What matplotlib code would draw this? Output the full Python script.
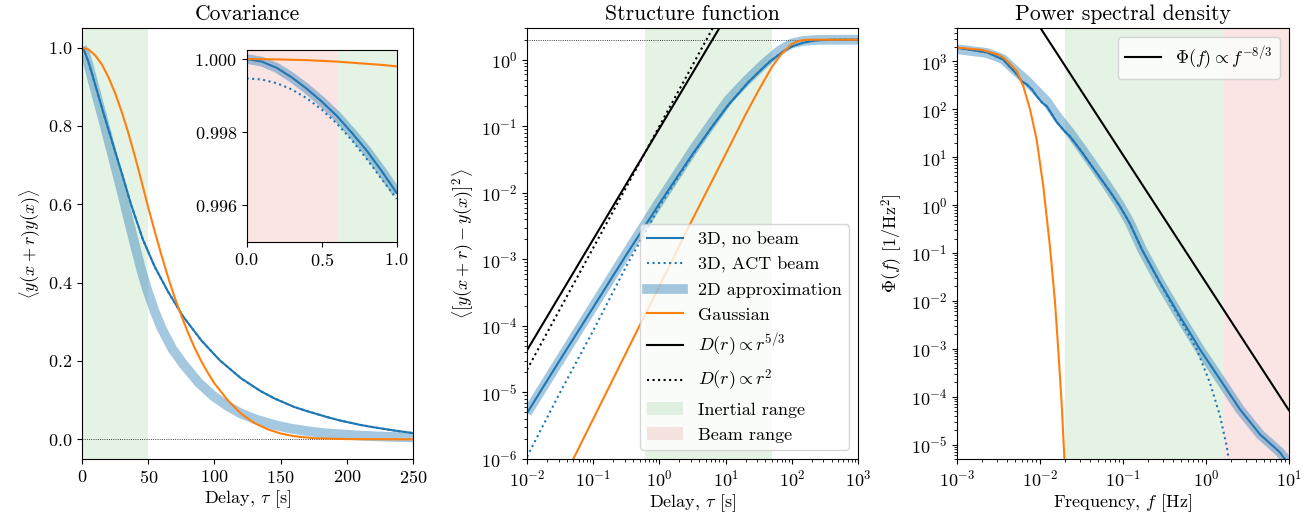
import numpy as np
import matplotlib
matplotlib.use('Agg')
import matplotlib.pyplot as plt
from matplotlib.lines import Line2D
from matplotlib.patches import Patch
from matplotlib.ticker import LogLocator, FormatStrFormatter, NullFormatter

plt.rcParams['font.family'] = 'serif'
plt.rcParams['font.serif'] = ['cmr10']
plt.rcParams['mathtext.fontset'] = 'cm'
plt.rcParams['axes.formatter.use_mathtext'] = True
plt.rcParams['axes.unicode_minus'] = False
plt.rcParams['font.size'] = 13

# scale ranges [s]
tau_inertial = [0.6, 50.0]
tau_beam = [0.0, 0.6]

# --- covariance, lags in seconds
tau_3d = [0, 2, 5, 8, 11, 16, 22, 30, 37, 46, 55, 65, 76.5, 90, 104, 120, 135, 145, 160, 170,
          185, 195, 210, 220, 235, 250]
cov_3d = [1.0, 0.99, 0.962, 0.928, 0.893, 0.835, 0.768, 0.68, 0.60, 0.51, 0.44, 0.377, 0.313,
          0.253, 0.202, 0.156, 0.123, 0.105, 0.083, 0.072, 0.057, 0.048, 0.037, 0.031, 0.023, 0.016]
cov_act = [0.9995, 0.9895, 0.962, 0.928, 0.893, 0.835, 0.768, 0.68, 0.60, 0.51, 0.44, 0.377, 0.313,
           0.253, 0.202, 0.156, 0.123, 0.105, 0.083, 0.072, 0.057, 0.048, 0.037, 0.031, 0.023, 0.016]
tau_2d = [0, 2, 5, 9.8, 15, 19.9, 25, 30, 36.3, 41.3, 45, 48.9, 55, 60.2, 68, 76.5, 88, 99, 110,
          120, 132, 145, 157, 170, 182, 195, 210, 220, 235, 250]
cov_2d = [1.0, 0.988, 0.955, 0.893, 0.828, 0.765, 0.698, 0.632, 0.545, 0.478, 0.43, 0.385, 0.325,
          0.283, 0.232, 0.192, 0.145, 0.111, 0.085, 0.066, 0.05, 0.037, 0.028, 0.021, 0.016, 0.013,
          0.0095, 0.008, 0.0062, 0.005]
tau_g = [0, 5, 10, 15, 20, 25, 30, 35, 40, 45, 50, 55, 60, 65, 70, 75, 80, 85, 90, 95, 100,
         110, 120, 130, 140, 150, 160, 175, 200, 250]
cov_g = [1.0, 0.995, 0.98, 0.957, 0.924, 0.884, 0.836, 0.782, 0.722, 0.658, 0.592, 0.53, 0.47,
         0.414, 0.362, 0.316, 0.273, 0.234, 0.2, 0.17, 0.143, 0.1, 0.066, 0.042, 0.026, 0.015,
         0.008, 0.003, 0.0006, 0.0]

# inset, first second of lag
tau_in = [0, 0.1, 0.2, 0.3, 0.4, 0.5, 0.6, 0.7, 0.8, 0.9, 1.0]
cov_in_3d = [1.0, 0.99993, 0.99976, 0.99950, 0.99919, 0.99884, 0.99845, 0.99799, 0.99750, 0.99694, 0.99634]
cov_in_act = [0.99947, 0.99944, 0.99934, 0.99917, 0.99893, 0.99862, 0.99824, 0.99779, 0.99727, 0.99672, 0.99618]
cov_in_2d = [1.0, 0.99993, 0.99976, 0.99950, 0.99919, 0.99884, 0.99845, 0.99799, 0.99750, 0.99694, 0.99634]
cov_in_g = [1.0, 0.999998, 0.99999, 0.99998, 0.99997, 0.99995, 0.99993, 0.9999, 0.99987, 0.99984, 0.9998]

# --- structure function
r_sf_3d = [0.01, 0.0316, 0.1, 0.316, 1, 3.16, 6.3, 11, 22, 37, 46, 66, 76, 100, 145, 195, 250, 400, 1000]
sf_3d = [4.9e-6, 3.1e-5, 1.9e-4, 1.17e-3, 6.9e-3, 0.038, 0.1, 0.21, 0.46, 0.76, 0.93, 1.22, 1.36,
         1.58, 1.79, 1.9, 1.96, 1.995, 2.0]
r_sf_act = [0.01, 0.0316, 0.1, 0.316, 0.562, 1, 3.16, 6.3, 11, 22, 37, 46, 66, 76, 100, 145, 195, 250, 400, 1000]
sf_act = [1.08e-6, 1.0e-5, 8.5e-5, 7.9e-4, 2.2e-3, 6.3e-3, 0.037, 0.1, 0.21, 0.46, 0.76, 0.93, 1.22, 1.36,
          1.58, 1.79, 1.9, 1.96, 1.995, 2.0]
r_sf_2d = [0.01, 0.0316, 0.1, 0.316, 1, 3.16, 6.3, 11, 20, 37, 50, 66, 100, 150, 250, 1000]
sf_2d = [4.9e-6, 3.1e-5, 1.95e-4, 1.22e-3, 7.4e-3, 0.043, 0.115, 0.25, 0.47, 0.85, 1.1, 1.38,
         1.76, 1.92, 1.99, 2.0]
r_sf_g = [0.04, 0.1, 0.316, 1, 3.16, 10, 20, 31.6, 50, 70, 100, 130, 160, 200, 1000]
sf_g = [6.4e-7, 4e-6, 4e-5, 4e-4, 4e-3, 0.038, 0.15, 0.35, 0.78, 1.23, 1.73, 1.93, 1.99, 2.0, 2.0]
r_ref = [0.01, 10.0]
sf_53 = [4.3e-5, 4.3]
sf_2 = [2.2e-5, 6.8]
sf_sat = 2.0

# --- power spectral density
f_3d = [1e-3, 2.30e-3, 3.58e-3, 5.28e-3, 6.07e-3, 6.97e-3, 8.02e-3, 9.2e-3, 1.057e-2, 1.213e-2,
        1.396e-2, 1.603e-2, 1.945e-2, 2.30e-2, 3.03e-2, 4.0e-2, 5.28e-2, 6.97e-2, 9.2e-2, 0.121,
        0.169, 0.279, 0.486, 0.847, 1.476, 2.57, 4.48, 7.80, 8.95]
psd_3d = [1932, 1542, 1102, 536, 382, 331, 260, 186, 139, 115,
          78.3, 53.3, 36.2, 27.2, 14.6, 7.43, 3.78, 1.93, 0.94, 0.415,
          0.119, 0.0243, 4.74e-3, 9.7e-4, 2.30e-4, 5.43e-5, 1.63e-5, 6.87e-6, 4.9e-6]
f_act = [1e-3, 2.30e-3, 3.58e-3, 5.28e-3, 6.07e-3, 6.97e-3, 8.02e-3, 9.2e-3, 1.057e-2, 1.213e-2,
         1.396e-2, 1.603e-2, 1.945e-2, 2.30e-2, 3.03e-2, 4.0e-2, 5.28e-2, 6.97e-2, 9.2e-2, 0.121,
         0.169, 0.279, 0.486, 0.773, 1.117, 1.476, 1.78, 1.9]
psd_act = [1932, 1542, 1102, 536, 382, 331, 260, 186, 139, 115,
           78.3, 53.3, 36.2, 27.2, 14.6, 7.43, 3.78, 1.93, 0.94, 0.415,
           0.119, 0.0235, 4.2e-3, 9.8e-4, 1.95e-4, 4.0e-5, 9.3e-6, 4.5e-6]
f_2d = [1e-3, 2.3e-3, 3.58e-3, 5.28e-3, 6.97e-3, 9.2e-3, 1.213e-2, 1.603e-2, 2.30e-2, 3.03e-2,
        4.0e-2, 5.28e-2, 6.97e-2, 9.2e-2, 0.121, 0.169, 0.279, 0.486, 0.847, 1.476, 2.57, 4.48, 7.80, 9.5]
psd_2d = [1800, 1500, 1120, 600, 390, 240, 145, 72, 33, 17,
          8.6, 4.3, 2.1, 1.0, 0.43, 0.12, 0.024, 4.7e-3, 9.7e-4, 2.3e-4, 5.4e-5, 1.63e-5, 6.9e-6, 4.6e-6]
f_g = [1e-3, 2.0e-3, 3.16e-3, 3.63e-3, 4.47e-3, 5.25e-3, 6.31e-3, 7.59e-3, 9.12e-3, 1.096e-2,
       1.318e-2, 1.514e-2, 1.66e-2, 1.82e-2, 1.963e-2, 2.04e-2]
psd_g = [1950, 1740, 1380, 1200, 851, 631, 302, 100, 23.4, 2.5,
         0.138, 0.01, 9.8e-4, 7.9e-5, 5.75e-6, 2.5e-6]
f_ref = [1e-3, 10.0]
psd_83 = [2.4e6, 5.2e-5]

# decade ticks shown on the log axes
r_ticks = [1e-2, 1e-1, 1e0, 1e1, 1e2, 1e3]
sf_ticks = [1e-6, 1e-5, 1e-4, 1e-3, 1e-2, 1e-1, 1e0]
f_ticks = [1e-3, 1e-2, 1e-1, 1e0, 1e1]
psd_ticks = [1e-5, 1e-4, 1e-3, 1e-2, 1e-1, 1e0, 1e1, 1e2, 1e3]

span_kw = dict(alpha=0.12, lw=0)
band_kw = dict(color='C0', lw=7, alpha=0.4, solid_capstyle='butt')

fig = plt.figure(figsize=(13.12, 5.18), dpi=100)
ax1 = fig.add_axes([0.0625, 0.114, 0.2523, 0.832])
ax2 = fig.add_axes([0.4017, 0.114, 0.2523, 0.832])
ax3 = fig.add_axes([0.7294, 0.114, 0.2530, 0.832])

# covariance
ax1.axvspan(*tau_inertial, color='C2', **span_kw)
ax1.axvspan(*tau_beam, color='C3', **span_kw)
ax1.axhline(0, color='k', ls=':', lw=0.6)
ax1.plot(tau_3d, cov_3d, color='C0', lw=1.5)
ax1.plot(tau_3d, cov_act, color='C0', lw=1.5, ls=':')
ax1.plot(tau_2d, cov_2d, **band_kw)
ax1.plot(tau_g, cov_g, color='C1', lw=1.5)
ax1.set_xlim(0, 250)
ax1.set_ylim(-0.05, 1.05)
ax1.set_xticks([0, 50, 100, 150, 200, 250])
ax1.set_yticks([0.0, 0.2, 0.4, 0.6, 0.8, 1.0])
ax1.set_xlabel(r'Delay, $\tau$ [s]', labelpad=2)
ax1.set_ylabel(r'$\left\langle y(x+r)y(x) \right\rangle$')
ax1.set_title('Covariance')

ins = fig.add_axes([0.188, 0.533, 0.1143, 0.3707])
ins.axvspan(*tau_inertial, color='C2', **span_kw)
ins.axvspan(*tau_beam, color='C3', **span_kw)
ins.plot(tau_in, cov_in_3d, color='C0', lw=1.5)
ins.plot(tau_in, cov_in_act, color='C0', lw=1.5, ls=':')
ins.plot(tau_in, cov_in_2d, **band_kw)
ins.plot(tau_in, cov_in_g, color='C1', lw=1.5)
ins.set_xlim(0, 1)
ins.set_ylim(0.995, 1.00025)
ins.set_xticks([0.0, 0.5, 1.0])
ins.set_yticks([0.996, 0.998, 1.000])
ins.xaxis.set_major_formatter(FormatStrFormatter(r'$%.1f$'))
ins.yaxis.set_major_formatter(FormatStrFormatter(r'$%.3f$'))

# structure function
ax2.axvspan(*tau_inertial, color='C2', **span_kw)
ax2.axhline(sf_sat, color='k', ls=':', lw=0.6)
ax2.plot(r_sf_3d, sf_3d, color='C0', lw=1.5)
ax2.plot(r_sf_act, sf_act, color='C0', lw=1.5, ls=':')
ax2.plot(r_sf_2d, sf_2d, **band_kw)
ax2.plot(r_sf_g, sf_g, color='C1', lw=1.5)
ax2.plot(r_ref, sf_53, color='k', lw=1.5)
ax2.plot(r_ref, sf_2, color='k', lw=1.5, ls=':')
ax2.set_xscale('log')
ax2.set_yscale('log')
ax2.set_xticks(r_ticks)
ax2.set_yticks(sf_ticks)
ax2.set_xlim(1e-2, 1e3)
ax2.set_ylim(1e-6, 3.0)
ax2.set_xlabel(r'Delay, $\tau$ [s]', labelpad=2)
ax2.set_ylabel(r'$\left\langle \left[y(x+r)-y(x)\right]^2 \right\rangle$')
ax2.set_title('Structure function')

handles = [
    Line2D([], [], color='C0', lw=1.5),
    Line2D([], [], color='C0', lw=1.5, ls=':'),
    Line2D([], [], color='C0', lw=7, alpha=0.4),
    Line2D([], [], color='C1', lw=1.5),
    Line2D([], [], color='k', lw=1.5),
    Line2D([], [], color='k', lw=1.5, ls=':'),
    Patch(facecolor='C2', alpha=0.12, lw=0),
    Patch(facecolor='C3', alpha=0.12, lw=0),
]
labels = ['3D, no beam', '3D, ACT beam', '2D approximation', 'Gaussian',
          r'$D(r) \propto r^{5/3}$', r'$D(r) \propto r^2$', 'Inertial range', 'Beam range']
ax2.legend(handles, labels, loc='lower right')

# power spectral density
ax3.axvspan(1 / tau_inertial[1], 1 / tau_inertial[0], color='C2', **span_kw)
ax3.axvspan(1 / tau_beam[1], f_ref[1], color='C3', **span_kw)
ax3.plot(f_3d, psd_3d, color='C0', lw=1.5)
ax3.plot(f_act, psd_act, color='C0', lw=1.5, ls=':')
ax3.plot(f_2d, psd_2d, **band_kw)
ax3.plot(f_g, psd_g, color='C1', lw=1.5)
ax3.plot(f_ref, psd_83, color='k', lw=1.5, label=r'$\Phi(f) \propto f^{-8/3}$')
ax3.set_xscale('log')
ax3.set_yscale('log')
ax3.set_xticks(f_ticks)
ax3.set_yticks(psd_ticks)
ax3.set_xlim(*f_ref)
ax3.set_ylim(5e-6, 5e3)
ax3.set_xlabel(r'Frequency, $f$ [Hz]', labelpad=2)
ax3.set_ylabel(r'$\Phi(f)$ [1/Hz$^2$]')
ax3.set_title('Power spectral density')
ax3.legend(loc='upper right')

for ax in (ax2, ax3):
    for axis in (ax.xaxis, ax.yaxis):
        axis.set_minor_locator(LogLocator(base=10, subs=np.arange(2, 10), numticks=300))
        axis.set_minor_formatter(NullFormatter())

fig.savefig('out.png', dpi=100)
